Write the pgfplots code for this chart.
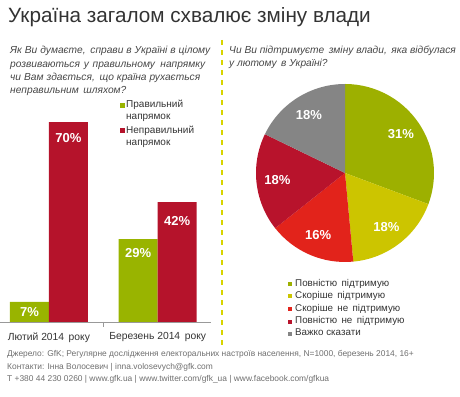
\documentclass[border=0pt]{standalone}
\usepackage{pgfplots}
\pgfplotsset{compat=1.18}
\usepackage{fontspec}
\setmainfont{Liberation Sans}
\definecolor{bargreen}{HTML}{99B400}
\definecolor{barred}{HTML}{B5132B}
\definecolor{piegreen}{HTML}{9DB000}
\definecolor{pieyellow}{HTML}{CCC500}
\definecolor{piered}{HTML}{E2231B}
\definecolor{piedark}{HTML}{B8132C}
\definecolor{piegray}{HTML}{858585}
\definecolor{dashyellow}{HTML}{D8D400}
\definecolor{txt}{HTML}{333333}
\definecolor{foot}{HTML}{6E6E6E}
% start (cumulative %), share (%), colour; the shares add to 101
\newcommand\piesector[3]{%
  \fill[#3] (axis cs:0,0) -- ++({90-(360/101)*#1}:89pt)
    arc[start angle={90-(360/101)*#1}, end angle={90-(360/101)*(#1+#2)}, radius=89pt] -- cycle;
  \path (axis cs:0,0) ++({90-(360/101)*(#1+#2/2)}:68pt)
    node[text=white, font=\fontsize{13}{15}\selectfont\bfseries] {#2\%};
}
\tikzset{barlab/.style={text=white, font=\fontsize{13}{15}\selectfont\bfseries, anchor=center}}
\begin{document}
\begin{tikzpicture}[x=1pt,y=1pt]
\path[use as bounding box] (0,0) rectangle (460,396);
% title
\node[anchor=base west, inner sep=0, text=txt, font=\fontsize{20.7}{24}\selectfont] at (8,373) {Україна загалом схвалює зміну влади};
% questions
\begin{scope}[every node/.style={anchor=base west, inner sep=0, text=txt!90, font=\fontsize{10.2}{12}\selectfont\itshape}]
\node at (10,342) {\makebox[200pt][s]{Як Ви думаєте,\, справи в Україні в цілому}};
\node at (10,328.5) {\makebox[195pt][s]{розвиваються у правильному\, напрямку}};
\node at (10,315.5) {\makebox[190pt][s]{чи Вам здається,\, що країна рухається}};
\node at (10,302.5) {неправильним\, шляхом?};
\node at (229,342) {Чи Ви підтримуєте\, зміну влади,\, яка відбулася};
\node at (229,329) {у лютому\, в Україні?};
\end{scope}
% dashed separator
\draw[dashyellow, line width=1.6pt, dash pattern=on 5pt off 5pt] (222,356) -- (222,48);
% bar legend
\fill[bargreen] (120,288) rectangle (124.5,292.5);
\fill[barred] (120,263) rectangle (124.5,267.5);
\begin{scope}[every node/.style={anchor=base west, inner sep=0, text=txt, font=\fontsize{10}{12}\selectfont}]
\node at (126,288) {Правильний};
\node at (126,276) {напрямок};
\node at (126,262) {Неправильний};
\node at (126,250) {напрямок};
\end{scope}
% bar chart
\begin{axis}[
  at={(0pt,74pt)}, anchor=south west,
  scale only axis, width=211pt, height=200pt,
  xmin=-0.45, xmax=1.49, ymin=0, ymax=70,
  axis x line*=bottom, axis y line=none,
  axis line style={draw=black!40, line width=0.8pt},
  xtick={0,1}, xticklabels={Лютий 2014\, року, Березень 2014\, року},
  major tick length=0pt,
  xticklabel style={text=txt, font=\fontsize{10.3}{12}\selectfont, yshift=-7pt},
  ybar=0pt, bar width=39pt,
  clip=false,
]
\addplot[fill=bargreen, draw=none] coordinates {(0,7) (1,29)};
\addplot[fill=barred, draw=none] coordinates {(0,70) (1,42)};
\draw[black!40, line width=0.8pt] (axis cs:0.5,0) -- ([yshift=-5pt]axis cs:0.5,0);
\node[barlab] at ([xshift=-19.5pt, yshift=-10pt]axis cs:0,7) {7\%};
\node[barlab] at ([xshift=19.5pt, yshift=-16pt]axis cs:0,70) {70\%};
\node[barlab] at ([xshift=-19.5pt, yshift=-14pt]axis cs:1,29) {29\%};
\node[barlab] at ([xshift=19.5pt, yshift=-19pt]axis cs:1,42) {42\%};
\end{axis}
% pie chart
\begin{axis}[
  at={(345pt,223pt)}, anchor=center,
  scale only axis, width=178pt, height=178pt,
  xmin=-1, xmax=1, ymin=-1, ymax=1, hide axis, clip=false,
]
\piesector{0}{31}{piegreen}
\piesector{31}{18}{pieyellow}
\piesector{49}{16}{piered}
\piesector{65}{18}{piedark}
\piesector{83}{18}{piegray}
\end{axis}
% pie legend
\fill[piegreen] (288,110) rectangle (292,114);
\fill[pieyellow] (288,98) rectangle (292,102);
\fill[piered] (288,85) rectangle (292,89);
\fill[piedark] (288,72) rectangle (292,76);
\fill[piegray] (288,60) rectangle (292,64);
\begin{scope}[every node/.style={anchor=base west, inner sep=0, text=txt, font=\fontsize{9.8}{11}\selectfont}]
\node at (295,109) {Повністю\, підтримую};
\node at (295,97) {Скоріше\, підтримую};
\node at (295,84.5) {Скоріше\, не\, підтримую};
\node at (295,72) {Повністю\, не\, підтримую};
\node at (295,60) {Важко сказати};
\end{scope}
% footer
\begin{scope}[every node/.style={anchor=base west, inner sep=0, text=foot, font=\fontsize{8.4}{10}\selectfont}]
\node at (7,39) {Джерело: GfK; Регулярне дослідження електоральних настроїв населення, N=1000, березень 2014, 16+};
\node at (7,27) {Контакти: Інна Волосевич | inna.volosevych@gfk.com};
\node at (7,14.5) {T +380 44 230 0260 | www.gfk.ua | www.twitter.com/gfk\_ua | www.facebook.com/gfkua};
\end{scope}
\end{tikzpicture}
\end{document}
